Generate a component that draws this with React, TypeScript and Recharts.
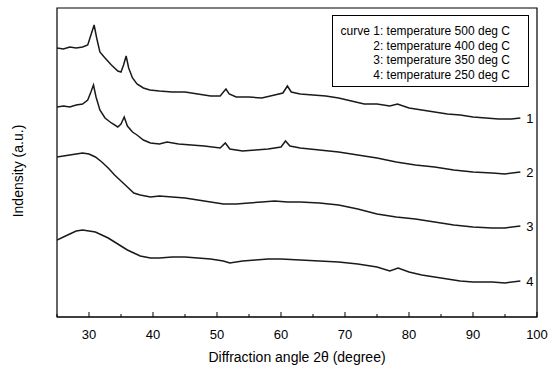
import { LabelList, Line, LineChart, ReferenceArea, XAxis, YAxis } from "recharts";

// angle (2θ, degree) and intensity (a.u.) for each curve
const ANGLES_1 = [25, 26, 27, 28, 29, 29.8, 30.3, 30.8, 31.2, 31.7, 32.5, 33.5, 34.5, 35, 35.4, 35.8, 36.2, 36.8, 37.5, 38.5, 39.5, 41, 43, 45, 47, 49, 50.5, 51, 51.4, 51.9, 53, 55, 57, 59, 60.3, 61, 61.6, 63, 65, 67, 69, 71, 73, 75, 77, 78.2, 80, 82, 84, 86, 88, 90, 92, 94, 96, 97.4];
const COUNTS_1 = [269, 268, 270, 269, 270, 272, 282, 292, 279, 265, 259, 252, 246, 245, 252, 261, 249, 239, 233, 229, 227, 226, 225, 225, 223, 221, 221, 225, 228, 223, 220, 220, 219, 222, 224, 231, 225, 223, 222, 221, 219, 216, 213, 213, 211, 213, 209, 207, 205, 203, 202, 200, 199, 198, 198, 199];

const ANGLES_2 = [25, 26, 27, 28, 29, 29.8, 30.3, 30.7, 31.1, 31.7, 32.5, 33.5, 34.5, 35, 35.5, 36, 36.8, 37.5, 38.5, 39.6, 41, 42.2, 44, 46, 48, 50.5, 51.3, 52, 54, 56, 58, 60, 60.7, 61.4, 63, 66, 69, 72, 75, 78, 81, 84, 87, 90, 93, 95, 97.4];
const COUNTS_2 = [210, 211, 210, 212, 213, 217, 225, 232, 220, 207, 199, 194, 190, 193, 200, 191, 185, 182, 177, 174, 173, 175, 173, 172, 171, 169, 174, 168, 166, 167, 168, 170, 176, 171, 169, 167, 165, 162, 159, 155, 152, 150, 147, 145, 144, 143, 145];

const ANGLES_3 = [25, 26, 27, 28, 29, 30, 31, 32, 33, 34, 35, 36, 37, 38, 39.6, 41, 43, 45, 47, 49, 51, 53, 55, 57, 59, 61, 63, 66, 69, 72, 75, 78, 81, 84, 87, 90, 93, 95, 97.4];
const COUNTS_3 = [160, 161, 162, 163, 164, 163, 160, 155, 149, 142, 136, 130, 124, 122, 120, 121, 120, 119, 117, 115, 113, 113, 114, 115, 116, 115, 115, 114, 112, 108, 103, 100, 98, 95, 92, 90, 89, 89, 91];

const ANGLES_4 = [25, 26, 27, 28, 29, 30, 31, 32, 33, 34, 35, 36, 37, 38, 39.6, 41, 43, 45, 47, 49, 51, 52, 54, 56, 58, 60, 63, 66, 69, 72, 75, 77, 78.3, 80, 82, 84, 86, 88, 90, 93, 95, 97.4];
const COUNTS_4 = [77, 80, 83, 86, 87, 86, 85, 82, 79, 75, 71, 67, 64, 61, 59, 59, 60, 60, 59, 58, 56, 54, 56, 57, 58, 58, 57, 56, 55, 53, 50, 46, 49, 45, 42, 40, 38, 36, 35, 35, 34, 36];

const CURVE_NAMES = ["1", "2", "3", "4"];
const LEGEND_LINES = [
  "curve 1: temperature 500 deg C",
  "2: temperature 400 deg C",
  "3: temperature 350 deg C",
  "4: temperature 250 deg C",
];
const X_TICKS = [25, 30, 35, 40, 45, 50, 55, 60, 65, 70, 75, 80, 85, 90, 95, 100];

const FONT = '"Liberation Sans", Arial, Helvetica, sans-serif';

const curves = [
  [ANGLES_1, COUNTS_1],
  [ANGLES_2, COUNTS_2],
  [ANGLES_3, COUNTS_3],
  [ANGLES_4, COUNTS_4],
].map(([xs, ys]) => xs.map((a, i) => ({ angle: a, counts: ys[i] })));

function AngleTick({ x, y, payload }: any) {
  const major = payload.value % 10 === 0;
  return (
    <g>
      <line x1={x} x2={x} y1={y} y2={y - (major ? 5 : 3)} stroke="#000" />
      {major && (
        <text x={x} y={y + 22} textAnchor="middle" fontSize={13} fill="#000" fontFamily={FONT}>
          {payload.value}
        </text>
      )}
    </g>
  );
}

function endLabel(name: string, last: number) {
  return (p: any) =>
    p.index === last ? (
      <text x={p.x + 6} y={p.y + 5} fontSize={13} fill="#000" fontFamily={FONT}>
        {name}
      </text>
    ) : null;
}

export default function App() {
  return (
    <div style={{ position: "absolute", left: 0, top: 0, width: 550, height: 372, background: "#fff", fontFamily: FONT }}>
      <LineChart width={550} height={372} margin={{ top: 8, right: 13, left: 57, bottom: 0 }}>
        <XAxis
          type="number"
          dataKey="angle"
          domain={[25, 100]}
          ticks={X_TICKS}
          interval={0}
          tick={<AngleTick />}
          tickLine={false}
          tickSize={0}
          tickMargin={0}
          axisLine={{ stroke: "#000" }}
          height={55}
          allowDataOverflow
        />
        <YAxis type="number" domain={[0, 309]} hide />
        <ReferenceArea x1={25} x2={100} y1={0} y2={309} fill="none" stroke="#000" strokeWidth={1.2} />
        {curves.map((d, i) => (
          <Line
            key={i}
            data={d}
            dataKey="counts"
            type="linear"
            stroke="#1a1a1a"
            strokeWidth={1.5}
            dot={false}
            isAnimationActive={false}
          >
            <LabelList dataKey="counts" content={endLabel(CURVE_NAMES[i], d.length - 1)} />
          </Line>
        ))}
      </LineChart>
      <div
        style={{
          position: "absolute",
          left: 332,
          top: 15,
          width: 197,
          height: 72,
          border: "1px solid #000",
          boxSizing: "border-box",
          textAlign: "right",
          fontSize: 12,
          lineHeight: "14.7px",
          padding: "8px 18px 0 0",
          color: "#000",
        }}
      >
        {LEGEND_LINES.map((t) => (
          <div key={t}>{t}</div>
        ))}
      </div>
      <div style={{ position: "absolute", left: 0, top: 349, width: 594, textAlign: "center", fontSize: 14 }}>
        Diffraction angle 2θ (degree)
      </div>
      <div
        style={{
          position: "absolute",
          left: 18,
          top: 171,
          transform: "translate(-50%, -50%) rotate(-90deg)",
          whiteSpace: "nowrap",
          fontSize: 14,
        }}
      >
        Indensity (a.u.)
      </div>
    </div>
  );
}
